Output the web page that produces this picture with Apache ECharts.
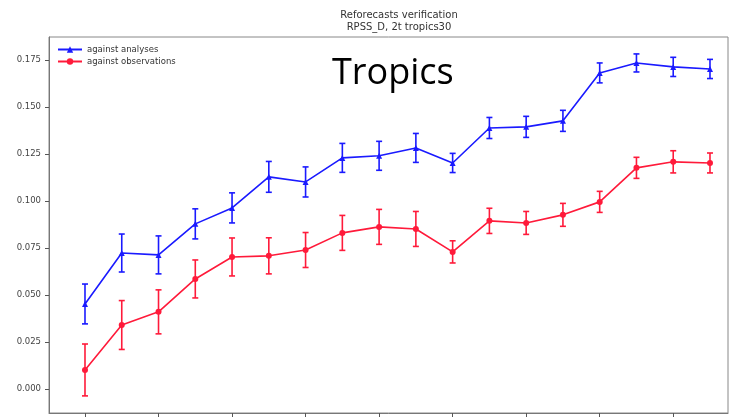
<!DOCTYPE html>
<html>
<head>
<meta charset="utf-8">
<script src="https://cdn.jsdelivr.net/npm/echarts@6/dist/echarts.min.js"></script>
<style>html,body{margin:0;padding:0;background:#fff}#c{width:735px;height:417px}</style>
</head>
<body>
<div id="c"></div>
<script>
const steps = [0, 1, 2, 3, 4, 5, 6, 7, 8, 9, 10, 11, 12, 13, 14, 15, 16, 17];
const xTicks = [0, 2, 4, 6, 8, 10, 12, 14, 16];
const yTicks = [0, 0.025, 0.05, 0.075, 0.1, 0.125, 0.15, 0.175];
const analyses = [0.0452, 0.0723, 0.0713, 0.0878, 0.0963, 0.1128, 0.1101, 0.1229, 0.1240, 0.1282, 0.1202, 0.1388, 0.1394, 0.1426, 0.1681, 0.1734, 0.1713, 0.1702];
const analysesErr = [0.0106, 0.0101, 0.0101, 0.0080, 0.0080, 0.0082, 0.0080, 0.0077, 0.0077, 0.0077, 0.0051, 0.0056, 0.0056, 0.0056, 0.0053, 0.0048, 0.0051, 0.0051];
const observations = [0.0101, 0.0340, 0.0410, 0.0585, 0.0702, 0.0708, 0.0739, 0.0830, 0.0862, 0.0851, 0.0729, 0.0894, 0.0883, 0.0926, 0.0995, 0.1176, 0.1208, 0.1202];
const observationsErr = [0.0138, 0.0130, 0.0117, 0.0101, 0.0101, 0.0096, 0.0093, 0.0093, 0.0093, 0.0093, 0.0059, 0.0067, 0.0061, 0.0061, 0.0056, 0.0056, 0.0059, 0.0053];
const seriesNames = ['against analyses', 'against observations'];
const titleLines = ['Reforecasts verification', 'RPSS_D, 2t tropics30'];
const overlayText = 'Tropics';

const BLUE = '#1a1aff', RED = '#ff1a3a';

function errBars(vals, errs) {
  return steps.map((s, i) => [s, vals[i] - errs[i], vals[i] + errs[i]]);
}
function renderErr(color) {
  return function (params, api) {
    const x = api.value(0);
    const lo = api.coord([x, api.value(1)]);
    const hi = api.coord([x, api.value(2)]);
    const cap = 3;
    const style = { stroke: color, lineWidth: 1.6 };
    return {
      type: 'group',
      children: [
        { type: 'line', shape: { x1: lo[0], y1: lo[1], x2: hi[0], y2: hi[1] }, style },
        { type: 'line', shape: { x1: lo[0] - cap, y1: lo[1], x2: lo[0] + cap, y2: lo[1] }, style },
        { type: 'line', shape: { x1: hi[0] - cap, y1: hi[1], x2: hi[0] + cap, y2: hi[1] }, style }
      ]
    };
  };
}

const chart = echarts.init(document.getElementById('c'), null, { renderer: 'canvas' });
chart.setOption({
  backgroundColor: '#fff',
  animation: false,
  title: {
    text: titleLines.join('\n'),
    left: 394, top: 4, textAlign: 'center',
    textStyle: { fontFamily: 'DejaVu Sans', fontSize: 10, fontWeight: 'normal', color: '#333', lineHeight: 12.5 }
  },
  graphic: [{
    type: 'text', left: 332, top: 56,
    style: { text: overlayText, font: '36px "Open Sans"', fill: '#000' }
  }],
  legend: {
    left: 52, top: 40, orient: 'vertical', itemGap: 3,
    itemWidth: 24, itemHeight: 8,
    textStyle: { fontFamily: 'DejaVu Sans', fontSize: 8.5, color: '#333', padding: [0, 0, 0, 0] },
    data: seriesNames
  },
  grid: { left: 49, right: 7, top: 37, bottom: 4, show: true, borderColor: '#888', borderWidth: 1 },
  xAxis: {
    type: 'value', min: -0.979, max: 17.49,
    axisLine: { show: true, onZero: false, lineStyle: { color: '#777' } },
    axisTick: { show: true, customValues: xTicks, length: 4, inside: false, lineStyle: { color: '#555' } },
    axisLabel: { show: false },
    splitLine: { show: false }
  },
  yAxis: {
    type: 'value', min: -0.0128, max: 0.1872,
    axisLine: { show: true, onZero: false, lineStyle: { color: '#777' } },
    axisTick: { show: true, customValues: yTicks, length: 4, lineStyle: { color: '#555' } },
    axisLabel: {
      customValues: yTicks, formatter: v => v.toFixed(3), margin: 8,
      fontFamily: 'DejaVu Sans', fontSize: 8.5, color: '#444'
    },
    splitLine: { show: false }
  },
  series: [
    {
      name: seriesNames[0], type: 'line', data: steps.map((s, i) => [s, analyses[i]]),
      symbol: 'triangle', symbolSize: 6, color: BLUE,
      lineStyle: { color: BLUE, width: 1.6 }, itemStyle: { color: BLUE }, z: 3
    },
    {
      name: seriesNames[1], type: 'line', data: steps.map((s, i) => [s, observations[i]]),
      symbol: 'circle', symbolSize: 6, color: RED,
      lineStyle: { color: RED, width: 1.6 }, itemStyle: { color: RED }, z: 3
    },
    {
      type: 'custom', renderItem: renderErr(BLUE), data: errBars(analyses, analysesErr),
      encode: { x: 0, y: [1, 2] }, z: 2, silent: true
    },
    {
      type: 'custom', renderItem: renderErr(RED), data: errBars(observations, observationsErr),
      encode: { x: 0, y: [1, 2] }, z: 2, silent: true
    }
  ]
});
</script>
</body>
</html>
